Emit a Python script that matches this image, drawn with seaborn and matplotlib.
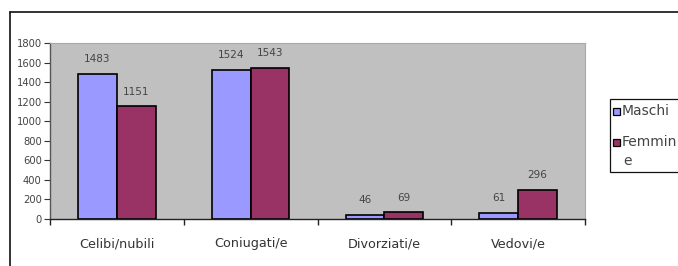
import matplotlib.pyplot as plt
import pandas as pd
import seaborn as sns
from matplotlib.lines import Line2D
from matplotlib.patches import Rectangle

# Data
categories = ['Celibi/nubili', 'Coniugati/e', 'Divorziati/e', 'Vedovi/e']
maschi = [1483, 1524, 46, 61]
femmine = [1151, 1543, 69, 296]
yticks = [0, 200, 400, 600, 800, 1000, 1200, 1400, 1600, 1800]
colors = ['#9999FF', '#993366']

df = pd.DataFrame({
    'stato': categories * 2,
    'sesso': ['Maschi'] * 4 + ['Femmine'] * 4,
    'valore': maschi + femmine,
})

sns.set_style('white')
plt.rcParams['font.family'] = ['DejaVu Sans']

W, H = 678, 266
fig = plt.figure(figsize=(W / 100, H / 100), dpi=100)
ax = fig.add_axes([50 / W, 47 / H, 535 / W, 176 / H])
ax.set_facecolor('#C0C0C0')

sns.barplot(data=df, x='stato', y='valore', hue='sesso', order=categories,
            hue_order=['Maschi', 'Femmine'], palette=colors,
            width=0.58, edgecolor='black', linewidth=1.2, saturation=1,
            legend=False, ax=ax)

for c in ax.containers:
    ax.bar_label(c, padding=7, fontsize=7.5, color='#444444')

ax.set_xlim(-0.5, 3.5)
ax.set_ylim(0, 1800)
ax.set_yticks(yticks)
ax.set_yticklabels([str(v) for v in yticks], fontsize=7.2, color='#444444')
ax.set_xlabel('')
ax.set_ylabel('')
ax.tick_params(axis='x', which='major', length=0, pad=13, labelsize=9.2, labelcolor='#333333')
ax.set_xticks([-0.5, 0.5, 1.5, 2.5, 3.5], minor=True)
ax.tick_params(axis='x', which='minor', length=4, width=1, direction='out', bottom=True, color='#222222')
ax.tick_params(axis='y', length=4, width=0.8, direction='out', left=True, pad=2, color='#333333')

for s in ['top', 'right']:
    ax.spines[s].set_color('#A8A8A8')
    ax.spines[s].set_linewidth(0.8)
ax.spines['left'].set_color('#555555')
ax.spines['left'].set_linewidth(1.0)
ax.spines['bottom'].set_color('#222222')
ax.spines['bottom'].set_linewidth(1.0)

# Outer chart frame (cut off by the screenshot on right and bottom)
fig.add_artist(Line2D([10 / W, 1.0], [1 - 12 / H, 1 - 12 / H], color='#111111', lw=1.2))
fig.add_artist(Line2D([10 / W, 10 / W], [0, 1 - 12 / H], color='#111111', lw=1.2))

# Legend box, also cut off at the right edge
fig.add_artist(Rectangle((610 / W, 1 - 172 / H), 100 / W, 73 / H, transform=fig.transFigure,
                         facecolor='white', edgecolor='#111111', lw=0.9))
legend_labels = ['Maschi', 'Femmin']
legend_rows = [111, 142]
for lab, col, yy in zip(legend_labels, colors, legend_rows):
    fig.add_artist(Rectangle((613 / W, 1 - (yy + 3.5) / H), 7 / W, 7 / H, transform=fig.transFigure,
                             facecolor=col, edgecolor='black', lw=0.9))
    fig.text(622 / W, 1 - yy / H, lab, fontsize=10, color='#444444', va='center', ha='left')
fig.text(623 / W, 1 - 161 / H, 'e', fontsize=10, color='#444444', va='center', ha='left')

fig.savefig('out.png', dpi=100)
